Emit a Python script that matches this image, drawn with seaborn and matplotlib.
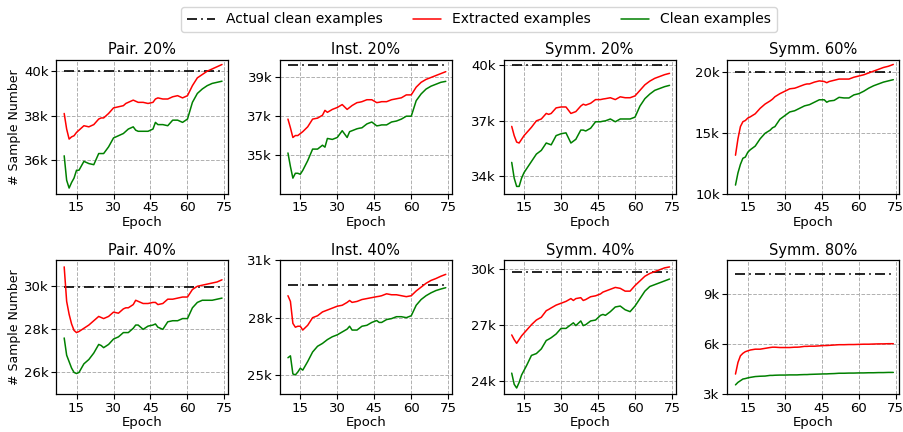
import matplotlib
matplotlib.use("Agg")
import matplotlib.pyplot as plt
import seaborn as sns
import pandas as pd
from matplotlib.ticker import FuncFormatter
from matplotlib.lines import Line2D

epochs = [10, 11, 12, 13, 14, 15, 16, 18, 20, 22, 24, 25, 26, 28, 30, 32, 34, 35, 36, 38,
          39, 40, 42, 44, 46, 47, 48, 50, 52, 54, 56, 58, 60, 62, 64, 66, 68, 70, 72, 74]

titles = ["Pair. 20%", "Inst. 20%", "Symm. 20%", "Symm. 60%",
          "Pair. 40%", "Inst. 40%", "Symm. 40%", "Symm. 80%"]

# values in thousands of samples
actual_clean = [40.0, 39.62, 40.0, 20.0, 29.95, 29.73, 29.82, 10.23]

pair20_extracted = [38.1, 37.4, 36.95, 37.05, 37.1, 37.25, 37.35, 37.55, 37.5, 37.6, 37.85, 37.9, 37.9, 38.1, 38.35, 38.4, 38.45, 38.55, 38.6, 38.7,
                    38.65, 38.6, 38.6, 38.55, 38.6, 38.75, 38.8, 38.75, 38.75, 38.85, 38.9, 38.8, 38.9, 39.35, 39.7, 39.85, 40.0, 40.1, 40.2, 40.3]
pair20_clean = [36.2, 35.1, 34.75, 35.0, 35.2, 35.55, 35.55, 35.95, 35.85, 35.8, 36.3, 36.3, 36.3, 36.6, 37.0, 37.1, 37.2, 37.3, 37.4, 37.5,
                37.35, 37.3, 37.3, 37.3, 37.4, 37.7, 37.6, 37.6, 37.55, 37.8, 37.8, 37.7, 37.85, 38.6, 39.0, 39.2, 39.35, 39.45, 39.5, 39.55]

inst20_extracted = [36.85, 36.4, 35.9, 36.0, 36.0, 36.1, 36.2, 36.45, 36.85, 36.9, 37.05, 37.3, 37.2, 37.35, 37.45, 37.6, 37.35, 37.45, 37.55, 37.7,
                    37.72, 37.75, 37.85, 37.85, 37.7, 37.72, 37.75, 37.75, 37.85, 37.9, 37.95, 38.1, 38.1, 38.5, 38.75, 38.9, 39.0, 39.1, 39.2, 39.3]
inst20_clean = [35.1, 34.4, 33.8, 34.05, 34.05, 34.0, 34.2, 34.7, 35.3, 35.3, 35.5, 35.4, 35.85, 35.8, 35.9, 36.25, 35.9, 36.2, 36.25, 36.35,
                36.38, 36.4, 36.6, 36.7, 36.5, 36.52, 36.55, 36.55, 36.7, 36.75, 36.85, 37.0, 37.0, 37.8, 38.15, 38.4, 38.55, 38.65, 38.75, 38.8]

symm20_extracted = [36.7, 36.2, 35.85, 35.8, 36.0, 36.2, 36.35, 36.65, 37.0, 37.1, 37.4, 37.35, 37.4, 37.7, 37.75, 37.75, 37.4, 37.45, 37.5, 37.8,
                    37.9, 37.85, 37.95, 38.15, 38.15, 38.18, 38.2, 38.25, 38.15, 38.3, 38.25, 38.25, 38.35, 38.65, 38.95, 39.15, 39.3, 39.4, 39.5, 39.57]
symm20_clean = [34.75, 33.9, 33.45, 33.45, 33.9, 34.2, 34.4, 34.8, 35.2, 35.4, 35.8, 35.75, 35.7, 36.2, 36.3, 36.35, 35.8, 35.9, 36.0, 36.5,
                36.5, 36.45, 36.6, 36.95, 36.95, 36.98, 37.0, 37.1, 36.95, 37.1, 37.1, 37.1, 37.2, 37.8, 38.2, 38.45, 38.65, 38.75, 38.85, 38.92]

symm60_extracted = [13.15, 14.5, 15.5, 15.9, 16.0, 16.2, 16.3, 16.55, 17.0, 17.35, 17.6, 17.75, 17.95, 18.2, 18.4, 18.6, 18.65, 18.72, 18.8, 18.95,
                    19.0, 19.0, 19.15, 19.25, 19.2, 19.1, 19.2, 19.3, 19.4, 19.4, 19.4, 19.55, 19.65, 19.75, 19.9, 20.05, 20.2, 20.35, 20.45, 20.6]
symm60_clean = [10.7, 11.7, 12.4, 12.9, 13.0, 13.4, 13.6, 13.9, 14.5, 14.95, 15.2, 15.4, 15.5, 16.1, 16.4, 16.7, 16.8, 16.9, 17.0, 17.2,
                17.25, 17.3, 17.5, 17.7, 17.7, 17.5, 17.6, 17.65, 17.9, 17.85, 17.85, 18.1, 18.2, 18.4, 18.65, 18.85, 19.0, 19.15, 19.25, 19.35]

pair40_extracted = [30.9, 29.3, 28.7, 28.25, 27.95, 27.85, 27.9, 28.05, 28.2, 28.4, 28.6, 28.55, 28.5, 28.6, 28.8, 28.75, 28.95, 29.0, 29.0, 29.15,
                    29.35, 29.3, 29.2, 29.2, 29.25, 29.25, 29.15, 29.2, 29.4, 29.4, 29.45, 29.5, 29.5, 29.85, 30.0, 30.05, 30.1, 30.15, 30.2, 30.3]
pair40_clean = [27.6, 26.8, 26.5, 26.2, 26.0, 25.95, 26.0, 26.4, 26.6, 26.9, 27.3, 27.25, 27.15, 27.3, 27.55, 27.65, 27.85, 27.85, 27.85, 28.05,
                28.2, 28.2, 28.0, 28.15, 28.2, 28.25, 28.1, 28.0, 28.35, 28.4, 28.4, 28.5, 28.5, 29.0, 29.25, 29.35, 29.35, 29.35, 29.4, 29.45]

inst40_extracted = [29.15, 28.85, 27.7, 27.5, 27.55, 27.55, 27.35, 27.6, 28.0, 28.1, 28.3, 28.35, 28.4, 28.5, 28.6, 28.65, 28.8, 28.9, 28.8, 28.85,
                    28.9, 28.95, 29.0, 29.05, 29.1, 29.12, 29.15, 29.25, 29.2, 29.2, 29.15, 29.1, 29.15, 29.4, 29.6, 29.8, 29.95, 30.05, 30.17, 30.27]
inst40_clean = [25.9, 26.0, 25.05, 25.0, 25.15, 25.35, 25.25, 25.7, 26.2, 26.5, 26.65, 26.75, 26.85, 27.0, 27.1, 27.25, 27.4, 27.55, 27.35, 27.35,
                27.45, 27.55, 27.6, 27.75, 27.85, 27.75, 27.75, 27.9, 27.95, 28.05, 28.05, 28.0, 28.1, 28.65, 28.95, 29.15, 29.3, 29.42, 29.5, 29.57]

symm40_extracted = [26.45, 26.2, 26.0, 26.2, 26.4, 26.55, 26.7, 27.0, 27.25, 27.4, 27.75, 27.82, 27.9, 28.05, 28.15, 28.25, 28.4, 28.3, 28.4, 28.45,
                    28.3, 28.35, 28.5, 28.55, 28.65, 28.75, 28.8, 28.9, 29.0, 28.95, 28.8, 28.8, 29.1, 29.35, 29.6, 29.75, 29.85, 29.95, 30.05, 30.1]
symm40_clean = [24.4, 23.8, 23.6, 23.9, 24.3, 24.55, 24.8, 25.35, 25.45, 25.7, 26.15, 26.22, 26.3, 26.5, 26.8, 26.8, 27.0, 27.1, 26.95, 27.2,
                26.95, 27.0, 27.2, 27.25, 27.5, 27.55, 27.5, 27.7, 27.95, 28.0, 27.8, 27.7, 28.0, 28.4, 28.8, 29.05, 29.15, 29.25, 29.35, 29.45]

symm80_extracted = [4.2, 4.9, 5.3, 5.45, 5.55, 5.6, 5.65, 5.7, 5.7, 5.75, 5.8, 5.82, 5.82, 5.8, 5.8, 5.8, 5.82, 5.82, 5.83, 5.87,
                    5.87, 5.88, 5.88, 5.9, 5.92, 5.92, 5.93, 5.95, 5.97, 5.97, 5.98, 5.98, 5.99, 6.0, 6.0, 6.01, 6.02, 6.02, 6.03, 6.03]
symm80_clean = [3.55, 3.7, 3.8, 3.9, 3.93, 3.97, 4.0, 4.05, 4.07, 4.08, 4.12, 4.12, 4.13, 4.14, 4.14, 4.15, 4.15, 4.15, 4.16, 4.17,
                4.17, 4.18, 4.19, 4.2, 4.21, 4.21, 4.22, 4.23, 4.25, 4.25, 4.26, 4.26, 4.27, 4.27, 4.28, 4.28, 4.29, 4.29, 4.3, 4.3]

extracted_series = [pair20_extracted, inst20_extracted, symm20_extracted, symm60_extracted,
                    pair40_extracted, inst40_extracted, symm40_extracted, symm80_extracted]
clean_series = [pair20_clean, inst20_clean, symm20_clean, symm60_clean,
                pair40_clean, inst40_clean, symm40_clean, symm80_clean]

y_ticks = [[36, 38, 40], [35, 37, 39], [34, 37, 40], [10, 15, 20],
           [26, 28, 30], [25, 28, 31], [24, 27, 30], [3, 6, 9]]
y_limits = [(34.5, 40.5), (33.0, 39.9), (33.06, 40.29), (10, 20.96),
            (25.0, 31.2), (24.0, 31.0), (23.28, 30.45), (3, 11.05)]
x_ticks = [15, 30, 45, 60, 75]

sns.set_style("ticks")
plt.rcParams["font.family"] = ["DejaVu Sans"]
plt.rcParams["text.color"] = "black"
plt.rcParams["axes.labelcolor"] = "black"
plt.rcParams["xtick.color"] = "black"
plt.rcParams["ytick.color"] = "black"

fig, axes = plt.subplots(2, 4, figsize=(9.04, 4.32), dpi=100)
fig.subplots_adjust(left=0.062, right=0.995, top=0.861, bottom=0.088, wspace=0.30, hspace=0.50)

for i, ax in enumerate(axes.flat):
    df = pd.DataFrame({
        "Epoch": epochs,
        "actual": [actual_clean[i] * 1000] * len(epochs),
        "extracted": [v * 1000 for v in extracted_series[i]],
        "clean": [v * 1000 for v in clean_series[i]],
    })
    sns.lineplot(data=df, x="Epoch", y="actual", ax=ax, color="black", linewidth=1.2)
    ax.lines[-1].set_linestyle((0, (6, 2.5, 1, 2.5)))
    sns.lineplot(data=df, x="Epoch", y="extracted", ax=ax, color="red", linewidth=1.1)
    sns.lineplot(data=df, x="Epoch", y="clean", ax=ax, color="green", linewidth=1.1)
    ax.set_title(titles[i], fontsize=10.5, pad=4, color="black")
    ax.set_xticks(x_ticks)
    ax.set_yticks([t * 1000 for t in y_ticks[i]])
    ax.yaxis.set_major_formatter(FuncFormatter(lambda v, p: f"{v/1000:.0f}k"))
    ax.set_ylim(y_limits[i][0] * 1000, y_limits[i][1] * 1000)
    ax.set_xlim(6.7, 76.5)
    ax.grid(True, linestyle="--", color="#b0b0b0", linewidth=0.7)
    ax.tick_params(labelsize=9.5, length=3.5, width=0.8, colors="black", pad=2)
    ax.set_xlabel("Epoch", fontsize=9.5, labelpad=1, color="black")
    if i % 4 == 0:
        ax.set_ylabel("# Sample Number", fontsize=9, labelpad=2, color="black")
    else:
        ax.set_ylabel("")
    for s in ax.spines.values():
        s.set_color("black")
        s.set_linewidth(0.9)
        s.set_visible(True)

handles = [
    Line2D([], [], color="black", linewidth=1.2, linestyle=(0, (6, 2.5, 1, 2.5))),
    Line2D([], [], color="red", linewidth=1.1),
    Line2D([], [], color="green", linewidth=1.1),
]
labels = ["Actual clean examples", "Extracted examples", "Clean examples"]
fig.legend(handles, labels, loc="upper center", ncol=3, bbox_to_anchor=(0.53, 1.0),
           fontsize=10, frameon=True, handlelength=2.0, columnspacing=2.2,
           edgecolor="#cccccc", fancybox=True, borderpad=0.4)

fig.savefig("out.png", dpi=100)
